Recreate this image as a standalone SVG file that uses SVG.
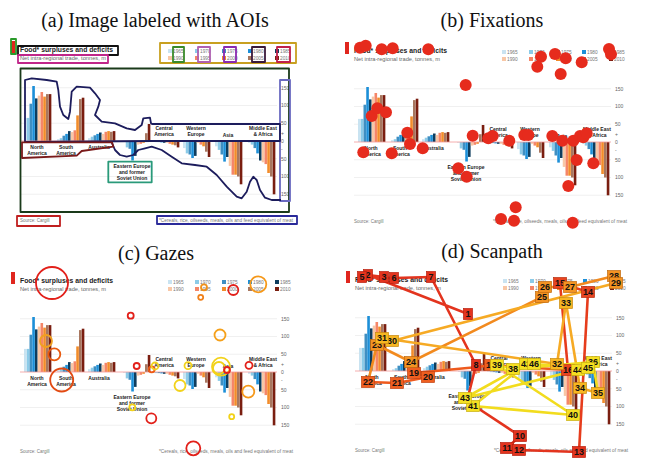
<svg xmlns="http://www.w3.org/2000/svg" width="647" height="469" viewBox="0 0 647 469">
<style>
.bg{fill:#ffffff}
.ttl{font-family:"Liberation Serif","Times New Roman",serif;font-size:20px;fill:#111;text-anchor:middle}
.ct{font-family:"Liberation Sans",Arial,sans-serif}
.h{font-weight:bold;fill:#222}
.sub{fill:#666}
.lg{font-size:4.8px;fill:#777}
.ax{font-size:5px;fill:#666}
.rl{font-size:5px;font-weight:bold;fill:#222;text-anchor:middle}
.ft{font-size:4.5px;fill:#777}
.grid{stroke:#e6e6e6;stroke-width:0.6}
.zero{stroke:#f29a9a;stroke-width:0.8}
.mk{fill:#e0261e}
.c0{fill:#c9e3f1}.c1{fill:#8ccbe8}.c2{fill:#3f8fc2}.c3{fill:#1c8fd8}.c4{fill:#0e3d5e}
.c5{fill:#f8c7a6}.c6{fill:#f58668}.c7{fill:#f28c2a}.c8{fill:#a8775f}.c9{fill:#7a1e10}
.aoi{fill:none;stroke-width:1.8;stroke-linejoin:round}
.fx{fill:#e62b1d}
.gz{fill:none;stroke-width:1.8}
.e{fill:none;stroke-width:2.6;stroke-linecap:round;stroke-linejoin:round}
.n text{font-family:"Liberation Sans",Arial,sans-serif;font-weight:bold;font-size:9px;fill:#111;text-anchor:middle}
.n rect{stroke-width:0.7}
.r1{fill:#e3341e;stroke:#b82010}.r2{fill:#e84420;stroke:#b83010}.r3{fill:#ef5f20;stroke:#c04010}
.r4{fill:#f39322;stroke:#c06a10}.r5{fill:#f7b622;stroke:#c88a10}.r6{fill:#f5df22;stroke:#c8b010}
</style>
<defs>
<g id="chart" class="ct">
  <rect class="mk" x="11" y="41" width="4" height="12"/>
  <text class="h" x="20" y="52" font-size="7.5" textLength="93" lengthAdjust="spacingAndGlyphs">Food* surpluses and deficits</text>
  <text class="sub" x="20" y="59.5" font-size="5" textLength="86" lengthAdjust="spacingAndGlyphs">Net intra-regional trade, tonnes, m</text>
  <rect class="c0" x="168" y="49" width="4" height="4"/><text class="lg" x="173" y="53">1965</text>
  <rect class="c1" x="195" y="49" width="4" height="4"/><text class="lg" x="200" y="53">1970</text>
  <rect class="c2" x="222" y="49" width="4" height="4"/><text class="lg" x="227" y="53">1975</text>
  <rect class="c3" x="248" y="49" width="4" height="4"/><text class="lg" x="253" y="53">1980</text>
  <rect class="c4" x="275" y="49" width="4" height="4"/><text class="lg" x="280" y="53">1985</text>
  <rect class="c5" x="168" y="56" width="4" height="4"/><text class="lg" x="173" y="60">1990</text>
  <rect class="c6" x="195" y="56" width="4" height="4"/><text class="lg" x="200" y="60">1995</text>
  <rect class="c7" x="222" y="56" width="4" height="4"/><text class="lg" x="227" y="60">2000</text>
  <rect class="c8" x="248" y="56" width="4" height="4"/><text class="lg" x="253" y="60">2005</text>
  <rect class="c9" x="275" y="56" width="4" height="4"/><text class="lg" x="280" y="60">2010</text>
  <g>
    <line class="grid" x1="20" y1="87.75" x2="277" y2="87.75"/>
    <line class="grid" x1="20" y1="105.5" x2="277" y2="105.5"/>
    <line class="grid" x1="20" y1="123.25" x2="277" y2="123.25"/>
    <line class="grid" x1="20" y1="158.75" x2="277" y2="158.75"/>
    <line class="grid" x1="20" y1="176.5" x2="277" y2="176.5"/>
    <line class="grid" x1="20" y1="194.25" x2="277" y2="194.25"/>
  </g>
  <g>
    <text class="ax" x="281" y="89.6">150</text>
    <text class="ax" x="281" y="107.3">100</text>
    <text class="ax" x="281" y="125">50</text>
    <text class="ax" x="281" y="134.5">+</text>
    <text class="ax" x="281" y="142.8">0</text>
    <text class="ax" x="281" y="151">-</text>
    <text class="ax" x="281" y="160.5">50</text>
    <text class="ax" x="281" y="178.3">100</text>
    <text class="ax" x="281" y="196">150</text>
  </g>
  <g>
    <rect class="c0" x="24" y="117.9" width="2.6" height="23.1"/>
    <rect class="c1" x="26.75" y="117.9" width="2.6" height="23.1"/>
    <rect class="c2" x="29.5" y="103.7" width="2.6" height="37.3"/>
    <rect class="c3" x="32.25" y="86" width="2.6" height="55"/>
    <rect class="c4" x="35" y="98.4" width="2.6" height="42.6"/>
    <rect class="c5" x="37.75" y="95.6" width="2.6" height="45.4"/>
    <rect class="c6" x="40.5" y="92" width="2.6" height="49"/>
    <rect class="c7" x="43.25" y="96.6" width="2.6" height="44.4"/>
    <rect class="c8" x="46" y="94.1" width="2.6" height="46.9"/>
    <rect class="c9" x="48.75" y="94.1" width="2.6" height="46.9"/>

    <rect class="c0" x="57" y="139.2" width="2.6" height="1.8"/>
    <rect class="c1" x="59.75" y="138.2" width="2.6" height="2.8"/>
    <rect class="c2" x="62.5" y="135.7" width="2.6" height="5.3"/>
    <rect class="c3" x="65.25" y="133.9" width="2.6" height="7.1"/>
    <rect class="c4" x="68" y="131.1" width="2.6" height="9.9"/>
    <rect class="c5" x="70.75" y="132.1" width="2.6" height="8.9"/>
    <rect class="c6" x="73.5" y="130.3" width="2.6" height="10.7"/>
    <rect class="c7" x="76.25" y="115.4" width="2.6" height="25.6"/>
    <rect class="c8" x="79" y="99.1" width="2.6" height="41.9"/>
    <rect class="c9" x="81.75" y="97.7" width="2.6" height="43.3"/>

    <rect class="c0" x="88" y="138.2" width="2.6" height="2.8"/>
    <rect class="c1" x="90.75" y="136.7" width="2.6" height="4.3"/>
    <rect class="c2" x="93.5" y="135.3" width="2.6" height="5.7"/>
    <rect class="c3" x="96.25" y="133.9" width="2.6" height="7.1"/>
    <rect class="c4" x="99" y="132.5" width="2.6" height="8.5"/>
    <rect class="c5" x="101.75" y="133.9" width="2.6" height="7.1"/>
    <rect class="c6" x="104.5" y="131.8" width="2.6" height="9.2"/>
    <rect class="c7" x="107.25" y="131.1" width="2.6" height="9.9"/>
    <rect class="c8" x="110" y="131.8" width="2.6" height="9.2"/>
    <rect class="c9" x="112.75" y="131.1" width="2.6" height="9.9"/>

    <rect class="c0" x="123" y="141" width="2.6" height="0.7"/>
    <rect class="c1" x="125.75" y="141" width="2.6" height="6.4"/>
    <rect class="c2" x="128.5" y="141" width="2.6" height="7.8"/>
    <rect class="c3" x="131.25" y="141" width="2.6" height="19.5"/>
    <rect class="c4" x="134" y="141" width="2.6" height="14.9"/>
    <rect class="c5" x="136.75" y="141" width="2.6" height="3.6"/>
    <rect class="c6" x="139.5" y="141" width="2.6" height="2.8"/>
    <rect class="c7" x="142.25" y="141" width="2.6" height="1.8"/>
    <rect class="c8" x="145" y="133.2" width="2.6" height="7.8"/>
    <rect class="c9" x="147.75" y="124" width="2.6" height="17"/>

    <rect class="c0" x="152" y="141" width="2.6" height="0.7"/>
    <rect class="c1" x="154.75" y="141" width="2.6" height="1.1"/>
    <rect class="c2" x="157.5" y="141" width="2.6" height="1.1"/>
    <rect class="c3" x="160.25" y="141" width="2.6" height="1.4"/>
    <rect class="c4" x="163" y="141" width="2.6" height="1.8"/>
    <rect class="c5" x="165.75" y="141" width="2.6" height="1.8"/>
    <rect class="c6" x="168.5" y="141" width="2.6" height="2.8"/>
    <rect class="c7" x="171.25" y="141" width="2.6" height="3.6"/>
    <rect class="c8" x="174" y="141" width="2.6" height="4.3"/>
    <rect class="c9" x="176.75" y="141" width="2.6" height="6.4"/>

    <rect class="c0" x="183" y="141" width="2.6" height="7.1"/>
    <rect class="c1" x="185.75" y="141" width="2.6" height="12.4"/>
    <rect class="c2" x="188.5" y="141" width="2.6" height="13.5"/>
    <rect class="c3" x="191.25" y="141" width="2.6" height="17"/>
    <rect class="c4" x="194" y="141" width="2.6" height="14.9"/>
    <rect class="c5" x="196.75" y="141" width="2.6" height="1.8"/>
    <rect class="c6" x="199.5" y="141" width="2.6" height="3.6"/>
    <rect class="c7" x="202.25" y="141" width="2.6" height="5.3"/>
    <rect class="c8" x="205" y="141" width="2.6" height="10.7"/>
    <rect class="c9" x="207.75" y="141" width="2.6" height="16"/>

    <rect class="c0" x="215" y="141" width="2.6" height="5.3"/>
    <rect class="c1" x="217.75" y="141" width="2.6" height="8.9"/>
    <rect class="c2" x="220.5" y="141" width="2.6" height="13.5"/>
    <rect class="c3" x="223.25" y="141" width="2.6" height="20.6"/>
    <rect class="c4" x="226" y="141" width="2.6" height="16"/>
    <rect class="c5" x="228.75" y="141" width="2.6" height="24.9"/>
    <rect class="c6" x="231.5" y="141" width="2.6" height="33.7"/>
    <rect class="c7" x="234.25" y="141" width="2.6" height="33.7"/>
    <rect class="c8" x="237" y="141" width="2.6" height="35.5"/>
    <rect class="c9" x="239.75" y="141" width="2.6" height="43.3"/>

    <rect class="c0" x="248" y="141" width="2.6" height="1.8"/>
    <rect class="c1" x="250.75" y="141" width="2.6" height="3.6"/>
    <rect class="c2" x="253.5" y="141" width="2.6" height="7.1"/>
    <rect class="c3" x="256.25" y="141" width="2.6" height="12.4"/>
    <rect class="c4" x="259" y="141" width="2.6" height="19.5"/>
    <rect class="c5" x="261.75" y="141" width="2.6" height="21.3"/>
    <rect class="c6" x="264.5" y="141" width="2.6" height="23.1"/>
    <rect class="c7" x="267.25" y="141" width="2.6" height="32"/>
    <rect class="c8" x="270" y="141" width="2.6" height="35.5"/>
    <rect class="c9" x="272.75" y="141" width="2.6" height="53.3"/>
  </g>
  <line class="zero" x1="20" y1="141" x2="277" y2="141"/>
  <g>
    <text class="rl" x="37" y="148.5">North</text>
    <text class="rl" x="37" y="155">America</text>
    <text class="rl" x="66" y="148.5">South</text>
    <text class="rl" x="66" y="155">America</text>
    <text class="rl" x="99" y="149">Australia</text>
    <text class="rl" x="132" y="167.5">Eastern Europe</text>
    <text class="rl" x="132" y="174">and former</text>
    <text class="rl" x="132" y="180">Soviet Union</text>
    <text class="rl" x="164" y="129.5">Central</text>
    <text class="rl" x="164" y="136">America</text>
    <text class="rl" x="196" y="129.5">Western</text>
    <text class="rl" x="196" y="136">Europe</text>
    <text class="rl" x="228" y="136.5">Asia</text>
    <text class="rl" x="263" y="129.5">Middle East</text>
    <text class="rl" x="263" y="136">&amp; Africa</text>
  </g>
  <text class="ft" x="20" y="222">Source: Cargill</text>
  <text class="ft" x="293" y="222" text-anchor="end" textLength="134" lengthAdjust="spacingAndGlyphs">*Cereals, rice, oilseeds, meals, oils and feed equivalent of meat</text>
</g>
</defs>

<rect class="bg" x="0" y="0" width="647" height="469"/>

<g id="panel-a">
  <text class="ttl" x="155" y="27">(a) Image labeled with AOIs</text>
  <use href="#chart"/>
  <g id="aois">
    <rect class="aoi" x="11" y="39" width="5" height="15" stroke="#2a9a2a"/>
    <rect class="aoi" x="18" y="46" width="100" height="9" stroke="#111111"/>
    <rect class="aoi" x="18" y="55" width="90" height="8" stroke="#c0268a"/>
    <rect class="aoi" x="160" y="43" width="136" height="20" stroke="#c8a020"/>
    <rect class="aoi" x="173" y="47" width="11" height="15" stroke="#3a8a2a"/>
    <rect class="aoi" x="198" y="47" width="12" height="15" stroke="#b060b0"/>
    <rect class="aoi" x="224" y="47" width="12" height="15" stroke="#8a2ab0"/>
    <rect class="aoi" x="252" y="47" width="13" height="15" stroke="#3a1a3a"/>
    <rect class="aoi" x="277" y="47" width="13" height="15" stroke="#c0204a"/>
    <rect class="aoi" x="20.5" y="68.5" width="268.5" height="143.5" stroke="#1a3a1a" stroke-width="2"/>
    <rect class="aoi" x="280" y="80" width="10" height="121" stroke="#6a6ac0"/>
    <path class="aoi" stroke="#1c1c5c" d="M25,142 L25,80 L31.7,78.3 L46.7,80 L56.7,81.7 L58.3,90 L60,106.7 L63.3,115 L68.3,119 L70,111.7 L71.7,91.7 L76.7,86.7 L90,87.7 L95,93.3 L100,100 L98.3,106.7 L95,115 L101.7,121.7 L115,123.3 L126.7,128.3 L135,130 L141.7,125 L143.3,118.3 L150,117.7 L151,123.3 L152,124 L280,124 L280,141 L152,141 Z"/>
    <path class="aoi" stroke="#1c1c5c" d="M111.7,142.3 L115,150 L120,155 L126.7,156.7 L133.3,155 L138.3,150 L145,148.3 L151.7,146.7 L161.7,150 L171.7,156.7 L181.7,163.3 L195,165 L206.7,166.7 L216.7,175 L226.7,186.7 L236.7,196.7 L241.7,198.3 L246.7,191.7 L250,181.7 L253.3,176.7 L256.7,180 L260,190 L265,197.7 L271.7,200 L281,200"/>
    <path class="aoi" stroke="#7a1a1a" d="M22,142.3 L112,142.3 L113.3,146.7 L81.7,151 L76.7,155.7 L22,158 Z"/>
    <rect class="aoi" x="108.3" y="161.7" width="43.4" height="20.6" stroke="#2a9a7a"/>
    <rect class="aoi" x="17" y="216" width="43" height="10" stroke="#c02020"/>
    <rect class="aoi" x="157" y="216" width="140" height="8" stroke="#2a2a9a"/>
  </g>
</g>

<g id="panel-b">
  <text class="ttl" x="492" y="27">(b) Fixations</text>
  <use href="#chart" transform="translate(334,1)"/>
  <g id="fixations">
    <circle class="fx" cx="360" cy="47.7" r="6"/>
    <circle class="fx" cx="365.7" cy="45.7" r="6"/>
    <circle class="fx" cx="381.7" cy="49.3" r="6"/>
    <circle class="fx" cx="392.7" cy="48.3" r="6"/>
    <circle class="fx" cx="428.3" cy="49.3" r="6"/>
    <circle class="fx" cx="465.7" cy="85" r="6"/>
    <circle class="fx" cx="371.7" cy="116" r="6"/>
    <circle class="fx" cx="377.3" cy="108.3" r="6"/>
    <circle class="fx" cx="386" cy="112.3" r="6"/>
    <circle class="fx" cx="407.3" cy="132.7" r="6"/>
    <circle class="fx" cx="410" cy="144" r="6"/>
    <circle class="fx" cx="422.7" cy="148.3" r="6"/>
    <circle class="fx" cx="363.3" cy="152.3" r="6"/>
    <circle class="fx" cx="391.7" cy="153.3" r="6"/>
    <circle class="fx" cx="472.7" cy="135.7" r="6"/>
    <circle class="fx" cx="488.3" cy="138.3" r="6"/>
    <circle class="fx" cx="492.7" cy="136" r="6"/>
    <circle class="fx" cx="509.3" cy="140.7" r="6"/>
    <circle class="fx" cx="524.3" cy="135" r="6"/>
    <circle class="fx" cx="528.3" cy="135" r="6"/>
    <circle class="fx" cx="552.3" cy="136" r="6"/>
    <circle class="fx" cx="562.3" cy="140.7" r="6"/>
    <circle class="fx" cx="573.3" cy="140.7" r="6"/>
    <circle class="fx" cx="580" cy="136" r="6"/>
    <circle class="fx" cx="583.3" cy="137.3" r="6"/>
    <circle class="fx" cx="586.7" cy="133.3" r="6"/>
    <circle class="fx" cx="576.7" cy="160" r="6"/>
    <circle class="fx" cx="593.3" cy="163.3" r="6"/>
    <circle class="fx" cx="568.3" cy="186" r="6"/>
    <circle class="fx" cx="458.3" cy="168.3" r="6"/>
    <circle class="fx" cx="466.7" cy="176.7" r="6"/>
    <circle class="fx" cx="515.7" cy="207.3" r="6"/>
    <circle class="fx" cx="501" cy="219" r="6"/>
    <circle class="fx" cx="514" cy="220.7" r="6"/>
    <circle class="fx" cx="572.7" cy="222.7" r="6"/>
    <circle class="fx" cx="541" cy="56.7" r="6"/>
    <circle class="fx" cx="537.3" cy="66.7" r="6"/>
    <circle class="fx" cx="555" cy="54" r="6"/>
    <circle class="fx" cx="565.7" cy="58.3" r="6"/>
    <circle class="fx" cx="560.7" cy="74" r="6"/>
    <circle class="fx" cx="581.7" cy="62.3" r="6"/>
    <circle class="fx" cx="609" cy="49" r="6"/>
    <circle class="fx" cx="611" cy="54.3" r="6"/>
  </g>
</g>

<g id="panel-c">
  <text class="ttl" x="156" y="260">(c) Gazes</text>
  <use href="#chart" transform="translate(0,231)"/>
  <g id="gazes">
    <circle class="gz" cx="52" cy="283" r="16" stroke="#e2201a"/>
    <circle class="gz" cx="204" cy="287.3" r="3" stroke="#f0901a"/>
    <circle class="gz" cx="233.3" cy="290" r="5" stroke="#e2201a"/>
    <circle class="gz" cx="258.3" cy="284.3" r="8" stroke="#f5981a"/>
    <circle class="gz" cx="200.7" cy="297.3" r="2.5" stroke="#f0801a"/>
    <circle class="gz" cx="130.7" cy="315.7" r="3" stroke="#e2201a"/>
    <circle class="gz" cx="220" cy="335" r="5.5" stroke="#f5a01a"/>
    <circle class="gz" cx="46" cy="341" r="6" stroke="#f0a020"/>
    <circle class="gz" cx="54.3" cy="354.3" r="6" stroke="#e85a10"/>
    <circle class="gz" cx="61.7" cy="380" r="11.5" stroke="#e24a12"/>
    <circle class="gz" cx="136.7" cy="366" r="3" stroke="#e2201a"/>
    <circle class="gz" cx="151.7" cy="369.3" r="3" stroke="#ee5a14"/>
    <circle class="gz" cx="155" cy="366" r="3.5" stroke="#f2d21a"/>
    <circle class="gz" cx="188" cy="365.7" r="3.5" stroke="#f2d21a"/>
    <circle class="gz" cx="221" cy="366.7" r="9" stroke="#f2d21a"/>
    <circle class="gz" cx="219" cy="368" r="6" stroke="#f2d21a"/>
    <circle class="gz" cx="227" cy="370" r="3" stroke="#e2201a"/>
    <circle class="gz" cx="249" cy="365.3" r="3.5" stroke="#e2201a"/>
    <circle class="gz" cx="180" cy="385.5" r="5.5" stroke="#f2d21a"/>
    <circle class="gz" cx="248.3" cy="391.7" r="6" stroke="#f5981a"/>
    <circle class="gz" cx="132.3" cy="407.3" r="3" stroke="#f2d21a"/>
    <circle class="gz" cx="151.3" cy="418.3" r="5" stroke="#e2201a"/>
    <circle class="gz" cx="231.7" cy="416.7" r="2.5" stroke="#f2d21a"/>
    <circle class="gz" cx="193.3" cy="448.3" r="7" stroke="#e2201a"/>
  </g>
</g>

<g id="panel-d">
  <text class="ttl" x="492" y="258">(d) Scanpath</text>
  <use href="#chart" transform="translate(335,230)"/>
  <g id="scanpath-edges">
    <polyline class="e" stroke="#e3341e" points="468,314 368,275 384,277 362,277 394,278 431,277 476,365 467,401 520,436 507,448 519,450 579,452"/>
    <polyline class="e" stroke="#e63c1c" points="579,452 588,292 560,283 568,370"/>
    <polyline class="e" stroke="#ee5a1e" points="568,370 491,365 478,367 414,373 428,377 397,383 368,382"/>
    <polyline class="e" stroke="#f28a1e" points="368,382 377,345 411,362 542,297 545,287 570,287 614,276 616,283"/>
    <polyline class="e" stroke="#f6aa24" points="616,283 392,341 382,338 557,364 566,303 580,388 598,393"/>
    <polyline class="e" stroke="#f2dc1e" points="598,393 593,362 513,369 497,365 573,415 473,406 526,364 465,398 578,370 588,368 534,364"/>
  </g>
  <g id="scanpath-nodes">
    <g id="n1" class="n"><rect class="r1" x="463.5" y="308.5" width="9" height="11"/><text x="468" y="317.3">1</text></g>
    <g id="n2" class="n"><rect class="r1" x="363.5" y="269.5" width="9" height="11"/><text x="368" y="278.3">2</text></g>
    <g id="n3" class="n"><rect class="r1" x="379.5" y="271.5" width="9" height="11"/><text x="384" y="280.3">3</text></g>
    <g id="n5" class="n"><rect class="r1" x="357.5" y="271.5" width="9" height="11"/><text x="362" y="280.3">5</text></g>
    <g id="n6" class="n"><rect class="r1" x="389.5" y="272.5" width="9" height="11"/><text x="394" y="281.3">6</text></g>
    <g id="n7" class="n"><rect class="r1" x="426.5" y="271.5" width="9" height="11"/><text x="431" y="280.3">7</text></g>
    <g id="n8" class="n"><rect class="r1" x="471.5" y="359.5" width="9" height="11"/><text x="476" y="368.3">8</text></g>
    <g id="n10" class="n"><rect class="r1" x="513.5" y="430.5" width="13" height="11"/><text x="520" y="439.3">10</text></g>
    <g id="n11" class="n"><rect class="r1" x="500.5" y="442.5" width="13" height="11"/><text x="507" y="451.3">11</text></g>
    <g id="n12" class="n"><rect class="r1" x="512.5" y="444.5" width="13" height="11"/><text x="519" y="453.3">12</text></g>
    <g id="n13" class="n"><rect class="r1" x="572.5" y="446.5" width="13" height="11"/><text x="579" y="455.3">13</text></g>
    <g id="n14" class="n"><rect class="r2" x="581.5" y="286.5" width="13" height="11"/><text x="588" y="295.3">14</text></g>
    <g id="n15" class="n"><rect class="r2" x="553.5" y="277.5" width="13" height="11"/><text x="560" y="286.3">15</text></g>
    <g id="n16" class="n"><rect class="r2" x="561.5" y="364.5" width="13" height="11"/><text x="568" y="373.3">16</text></g>
    <g id="n17" class="n"><rect class="r3" x="484.5" y="359.5" width="13" height="11"/><text x="491" y="368.3">17</text></g>
    <g id="n19" class="n"><rect class="r3" x="407.5" y="367.5" width="13" height="11"/><text x="414" y="376.3">19</text></g>
    <g id="n20" class="n"><rect class="r3" x="421.5" y="371.5" width="13" height="11"/><text x="428" y="380.3">20</text></g>
    <g id="n21" class="n"><rect class="r3" x="390.5" y="377.5" width="13" height="11"/><text x="397" y="386.3">21</text></g>
    <g id="n22" class="n"><rect class="r3" x="361.5" y="376.5" width="13" height="11"/><text x="368" y="385.3">22</text></g>
    <g id="n23" class="n"><rect class="r4" x="370.5" y="339.5" width="13" height="11"/><text x="377" y="348.3">23</text></g>
    <g id="n24" class="n"><rect class="r4" x="404.5" y="356.5" width="13" height="11"/><text x="411" y="365.3">24</text></g>
    <g id="n25" class="n"><rect class="r4" x="535.5" y="291.5" width="13" height="11"/><text x="542" y="300.3">25</text></g>
    <g id="n26" class="n"><rect class="r4" x="538.5" y="281.5" width="13" height="11"/><text x="545" y="290.3">26</text></g>
    <g id="n27" class="n"><rect class="r4" x="563.5" y="281.5" width="13" height="11"/><text x="570" y="290.3">27</text></g>
    <g id="n28" class="n"><rect class="r4" x="607.5" y="270.5" width="13" height="11"/><text x="614" y="279.3">28</text></g>
    <g id="n29" class="n"><rect class="r4" x="609.5" y="277.5" width="13" height="11"/><text x="616" y="286.3">29</text></g>
    <g id="n30" class="n"><rect class="r5" x="385.5" y="335.5" width="13" height="11"/><text x="392" y="344.3">30</text></g>
    <g id="n31" class="n"><rect class="r5" x="375.5" y="332.5" width="13" height="11"/><text x="382" y="341.3">31</text></g>
    <g id="n32" class="n"><rect class="r5" x="550.5" y="358.5" width="13" height="11"/><text x="557" y="367.3">32</text></g>
    <g id="n33" class="n"><rect class="r5" x="559.5" y="297.5" width="13" height="11"/><text x="566" y="306.3">33</text></g>
    <g id="n34" class="n"><rect class="r5" x="573.5" y="382.5" width="13" height="11"/><text x="580" y="391.3">34</text></g>
    <g id="n35" class="n"><rect class="r5" x="591.5" y="387.5" width="13" height="11"/><text x="598" y="396.3">35</text></g>
    <g id="n36" class="n"><rect class="r6" x="586.5" y="356.5" width="13" height="11"/><text x="593" y="365.3">36</text></g>
    <g id="n38" class="n"><rect class="r6" x="506.5" y="363.5" width="13" height="11"/><text x="513" y="372.3">38</text></g>
    <g id="n39" class="n"><rect class="r6" x="490.5" y="359.5" width="13" height="11"/><text x="497" y="368.3">39</text></g>
    <g id="n40" class="n"><rect class="r6" x="566.5" y="409.5" width="13" height="11"/><text x="573" y="418.3">40</text></g>
    <g id="n41" class="n"><rect class="r6" x="466.5" y="400.5" width="13" height="11"/><text x="473" y="409.3">41</text></g>
    <g id="n42" class="n"><rect class="r6" x="519.5" y="358.5" width="13" height="11"/><text x="526" y="367.3">42</text></g>
    <g id="n43" class="n"><rect class="r6" x="458.5" y="392.5" width="13" height="11"/><text x="465" y="401.3">43</text></g>
    <g id="n44" class="n"><rect class="r6" x="571.5" y="364.5" width="13" height="11"/><text x="578" y="373.3">44</text></g>
    <g id="n45" class="n"><rect class="r6" x="581.5" y="362.5" width="13" height="11"/><text x="588" y="371.3">45</text></g>
    <g id="n46" class="n"><rect class="r6" x="527.5" y="358.5" width="13" height="11"/><text x="534" y="367.3">46</text></g>
  </g>
</g>
</svg>
